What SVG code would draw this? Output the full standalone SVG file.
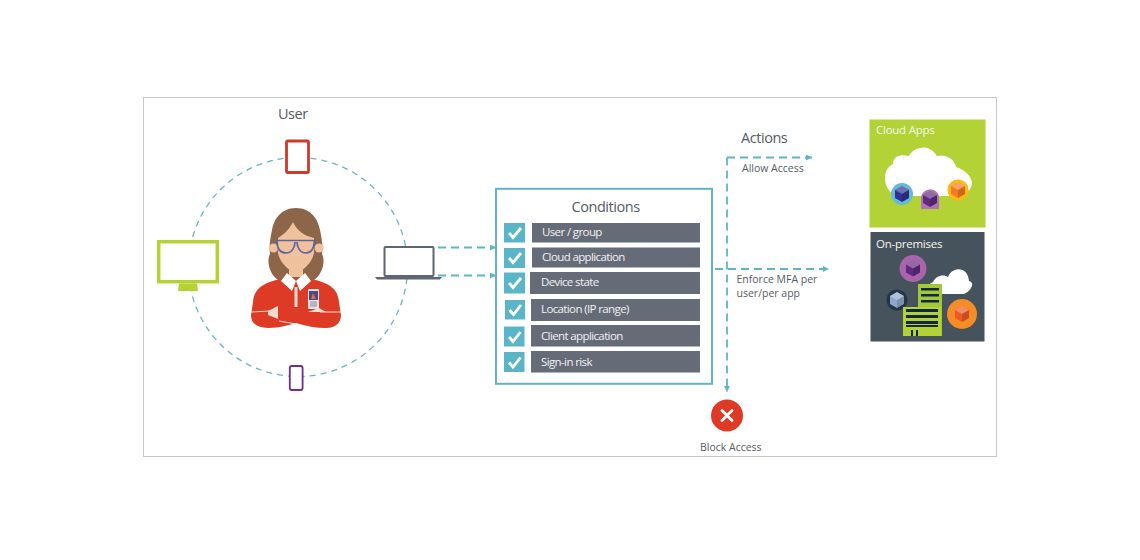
<svg xmlns="http://www.w3.org/2000/svg" width="1140" height="560" viewBox="0 0 1140 560">
<defs>
<marker id="arrow" markerUnits="userSpaceOnUse" markerWidth="7" markerHeight="6" refX="6" refY="3" orient="auto"><path d="M0 0L6 3L0 6Z" fill="#5fb4c6"/></marker>
<g id="cube"><path d="M0 -8L7 -4V4L0 8L-7 4V-4Z"/><path d="M0 -8L7 -4L0 0L-7 -4Z" fill="#fff" opacity=".3"/><path d="M7 -4V4L0 8V0Z" fill="#000" opacity=".15"/></g>
</defs>
<style>
text{font-family:"Open Sans","Noto Sans","Liberation Sans",sans-serif;fill:#555b63}
.h{font-size:14.500px;letter-spacing:-.45px}
.s{font-size:10.500px}
.row{fill:#656b77}
.chk{fill:#5bb5c9}
.tick{fill:none;stroke:#fff;stroke-width:2.800}
.rt{font-size:11.500px;fill:#f1f2f4;letter-spacing:-.62px}
.dash{fill:none;stroke:#5fb4c6;stroke-width:1.800;stroke-dasharray:8 5}
.wt{font-size:11.500px;fill:#f6f8ee;letter-spacing:-.25px}
</style>
<rect x="143.500" y="97.500" width="853" height="359" fill="#fff" stroke="#c8c8c8"/>
<g id="connectors">
<circle cx="298" cy="267" r="109.500" fill="none" stroke="#6fb3c1" stroke-width="1.300" stroke-dasharray="6 5"/>
<path class="dash" d="M438 247.500H496" marker-end="url(#arrow)"/>
<path class="dash" d="M438 275.500H496" marker-end="url(#arrow)"/>
<path class="dash" d="M727 157.500H812" marker-end="url(#arrow)"/>
<path class="dash" d="M715 269H829" marker-end="url(#arrow)"/>
<path class="dash" d="M727 157.500V392" marker-end="url(#arrow)"/>
</g>
<g id="user-label"><text class="h" x="278" y="119">User</text></g>
<g id="tablet"><rect x="286.500" y="141" width="22" height="31.500" rx="1.500" fill="#fff" stroke="#d0392a" stroke-width="2.800"/></g>
<g id="monitor"><rect x="158.700" y="241.700" width="58.600" height="40" fill="#fff" stroke="#b5d233" stroke-width="3.500"/><path d="M179 283.500H197L198 291H178Z" fill="#b5d233"/></g>
<g id="laptop"><rect x="384.500" y="247" width="49" height="29" rx="1" fill="#fff" stroke="#5f6672" stroke-width="2"/><path d="M375 277H442L440 279.500H377Z" fill="#5f6672"/></g>
<g id="phone"><rect x="289.800" y="366" width="12.800" height="24" rx="2" fill="#fff" stroke="#6d2d91" stroke-width="1.800"/></g>
<g id="person">
<path d="M296 208C281 208 274 219 272 230C270 240 269 246 270 254C266 262 270 276 280 281L312 281C322 276 326 262 322 254C323 246 322 240 320 230C318 219 311 208 296 208Z" fill="#8d6548"/>
<circle cx="273.500" cy="248" r="4.500" fill="#f0c19d"/><circle cx="319" cy="248" r="4.500" fill="#f0c19d"/>
<path d="M293 222C289 230 283 235 278 238V253C280 263 289 271 296 273C303 271 312 263 314 253V238C305 236 297 231 293 222Z" fill="#f0c19d"/>
<path d="M289 265H303V277H289Z" fill="#f0c19d"/>
<path d="M281 279C262 283 254 289 253 302L251 315C251 324 258 328 268 328C280 328 288 325 296 323C306 326 316 328 326 328C336 328 341 322 341 315L339 302C338 289 330 283 311 279Z" fill="#dd3b25"/>
<path d="M296 281L287 273L281 281L292 291ZM296 281L305 273L311 281L300 291Z" fill="#fff"/>
<path d="M294.500 287H297.500V307H294.500Z" fill="#f6dcd2"/>
<path d="M251 312L270 311M320 312H341M279 321L296 324" fill="none" stroke="#f7d9cf" stroke-width="1"/>
<path d="M268 311L278 306V319L268 315Z" fill="#f7ddd0"/>
<path d="M308 312L319 308L326 312H314Z" fill="#f7ddd0"/>
<rect x="308" y="289" width="11" height="20" rx="1" fill="#e9e5ea"/><rect x="309" y="291" width="9" height="9" fill="#4a4a7d"/><rect x="310" y="301" width="7" height="6" fill="#b7b4c1"/><path d="M313 293L311 299H316Z" fill="#e46a4a"/>
<g fill="none" stroke="#5d63a3" stroke-width="1.700"><path d="M276 240.500H315"/><path d="M277 240.500C277 249 280 253 286 253C292 253 295 247 295 242M297 242C297 247 300 253 306 253C311 253 314 249 314.500 240.500"/></g>
</g>
<g id="conditions">
<rect x="496" y="188.800" width="216" height="195" fill="#fff" stroke="#62b4c4" stroke-width="2"/>
<text class="h" x="571.500" y="212">Conditions</text>
</g>
<g id="cond-user"><rect class="chk" x="504" y="223" width="21" height="19.500"/><path class="tick" d="M509 233L513 237.500L521 228"/><rect class="row" x="532" y="223" width="168" height="19.500"/><text class="rt" x="542" y="236">User / group</text></g>
<g id="cond-cloud"><rect class="chk" x="504" y="248" width="21" height="20"/><path class="tick" d="M509 258L513 262.500L521 253"/><rect class="row" x="532" y="247.500" width="168" height="20"/><text class="rt" x="542" y="261">Cloud application</text></g>
<g id="cond-device"><rect class="chk" x="504" y="272.500" width="21" height="21"/><path class="tick" d="M509 283L513 287.500L521 278"/><rect class="row" x="530" y="272" width="170" height="22"/><text class="rt" x="541" y="286">Device state</text></g>
<g id="cond-location"><rect class="chk" x="505" y="300" width="20" height="19.500"/><path class="tick" d="M509.500 310L513.500 314.500L521 305"/><rect class="row" x="531" y="299" width="169" height="22"/><text class="rt" x="541" y="313">Location (IP range)</text></g>
<g id="cond-client"><rect class="chk" x="504" y="326.500" width="20.500" height="20"/><path class="tick" d="M509 337L513 341.500L520.500 332"/><rect class="row" x="531" y="325" width="169" height="21.500"/><text class="rt" x="541" y="340">Client application</text></g>
<g id="cond-signin"><rect class="chk" x="504" y="352" width="20.500" height="20"/><path class="tick" d="M509 362.500L513 367L520.500 357.500"/><rect class="row" x="531" y="351" width="169" height="21.500"/><text class="rt" x="541" y="365.500">Sign-in risk</text></g>
<g id="actions">
<text class="h" x="741" y="142.500">Actions</text>
<text class="s" x="742" y="172">Allow Access</text>
<text class="s" x="736.500" y="283">Enforce MFA per</text>
<text class="s" x="736.500" y="297">user/per app</text>
</g>
<g id="block"><circle cx="727" cy="415.500" r="16" fill="#dd3b25"/><path d="M722 410.500L732 420.500M732 410.500L722 420.500" stroke="#fff" stroke-width="2.800" stroke-linecap="round"/><text class="s" x="700" y="451">Block Access</text></g>
<g id="cloud-apps">
<rect x="869.500" y="119.500" width="116" height="108" fill="#b2d235"/>
<text class="wt" x="876" y="134">Cloud Apps</text>
<path d="M900 196C890 196 885 186 885 178C885 170 889 166 893 164C893 155 902 154 909 156C913 148 928 142 937 156C945 154 954 158 956 167C965 170 972 176 972 184C971 192 962 196 955 196Z" fill="#fff"/>
<circle cx="902" cy="194" r="11" fill="#62bcd9"/><use href="#cube" x="902" y="194" fill="#31318f"/>
<path d="M921 209V197C923 187 938 187 939 197V209Z" fill="#ae74b2"/><use href="#cube" x="930" y="199" fill="#5f2a80"/>
<circle cx="958" cy="190" r="10.500" fill="#fdb813"/><use href="#cube" x="958" y="190" fill="#f47b20"/>
</g>
<g id="on-premises">
<rect x="870.500" y="232" width="114" height="109.500" fill="#46535c"/>
<text class="wt" x="876" y="248">On-premises</text>
<circle cx="913" cy="268.500" r="13.500" fill="#a965ac"/><use href="#cube" x="913" y="268.500" fill="#5f2a80"/>
<path d="M933 294C926 294 925 285 933 282C936 275 944 274 948 277C952 266 968 266 969 281C977 283 968 294 963 294Z" fill="#fff"/>
<circle cx="897" cy="300" r="10.500" fill="#263447"/><use href="#cube" x="897" y="300" fill="#8fa8c9"/>
<circle cx="962" cy="314" r="15" fill="#f58d27"/><use href="#cube" x="962" y="314" fill="#ef5a24"/>
<rect x="918" y="284" width="24" height="52" fill="#a4c639"/>
<rect x="903" y="307" width="38" height="29" fill="#b2d235"/>
<g fill="#14263d"><rect x="921" y="288" width="18" height="2.500"/><rect x="921" y="294" width="18" height="2.500"/><rect x="921" y="300" width="18" height="2.500"/><rect x="906" y="309" width="32" height="3"/><rect x="906" y="315" width="32" height="3"/><rect x="906" y="321" width="32" height="3"/><rect x="906" y="325" width="32" height="2"/><rect x="911" y="330" width="2" height="6"/><rect x="916" y="330" width="2" height="6"/></g>
</g>
</svg>
